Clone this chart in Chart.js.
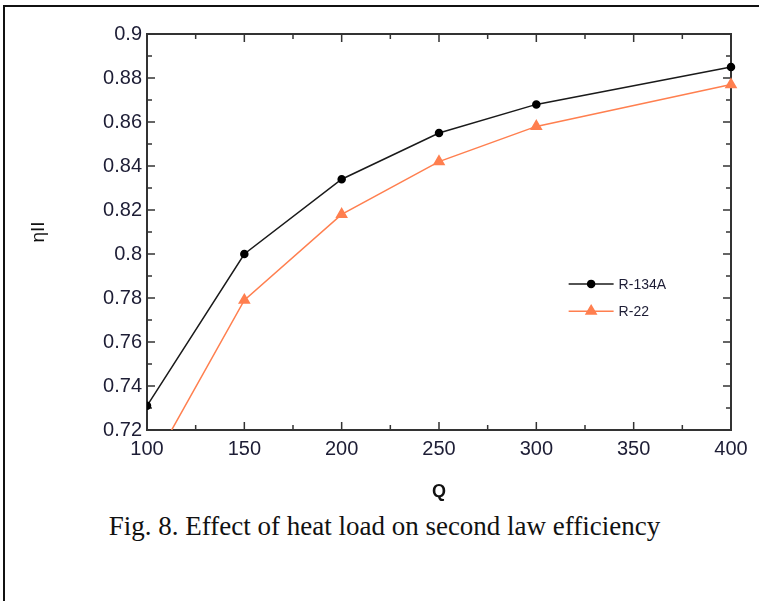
<!DOCTYPE html>
<html>
<head>
<meta charset="utf-8">
<script src="https://cdn.jsdelivr.net/npm/chart.js@4.4.1/dist/chart.umd.min.js"></script>
<style>
  html, body { margin: 0; padding: 0; background: #fff; }
  #page { position: relative; width: 759px; height: 601px; overflow: hidden; }
  #box { position: absolute; left: 3px; top: 5px; right: -5px; bottom: -5px;
         border-top: 2px solid #111; border-left: 2px solid #111; }
  #chart { position: absolute; left: 0; top: 0; }
  #caption { position: absolute; left: 0; width: 769px; top: 511px; text-align: center;
             font-family: "Liberation Serif", serif; font-size: 27px; color: #111; }
</style>
</head>
<body>
<div id="page">
  <div id="box"></div>
  <canvas id="chart" width="759" height="510"></canvas>
  <div id="caption">Fig. 8. Effect of heat load on second law efficiency</div>
</div>
<script>
// heat load Q
const heatLoad = [100, 150, 200, 250, 300, 400];
// second law efficiency
const effR134a = [0.731, 0.800, 0.834, 0.855, 0.868, 0.885];
const effR22 = [0.700, 0.779, 0.818, 0.842, 0.858, 0.877];

const xTicks = [100, 150, 200, 250, 300, 350, 400];
const yTicks = [0.72, 0.74, 0.76, 0.78, 0.8, 0.82, 0.84, 0.86, 0.88, 0.9];

const labelColor = "#1d1d35";

// box round the plot with inward ticks on all four sides, plus the key
const frameTicks = {
  id: "frameTicks",
  beforeDatasetsDraw(chart) {
    const { ctx, chartArea: a, scales: { x, y } } = chart;
    ctx.save();
    ctx.strokeStyle = "#333";
    ctx.lineWidth = 2;
    ctx.strokeRect(a.left, a.top, a.right - a.left, a.bottom - a.top);
    ctx.lineWidth = 1.5;
    ctx.beginPath();
    for (let q = 100; q <= 400; q += 25) {
      const px = x.getPixelForValue(q);
      const len = q % 50 === 0 ? 8 : 5;
      ctx.moveTo(px, a.bottom); ctx.lineTo(px, a.bottom - len);
      ctx.moveTo(px, a.top); ctx.lineTo(px, a.top + len);
    }
    for (let k = 0; k <= 18; k++) {
      const py = y.getPixelForValue(0.72 + k * 0.01);
      const len = k % 2 === 0 ? 8 : 5;
      ctx.moveTo(a.left, py); ctx.lineTo(a.left + len, py);
      ctx.moveTo(a.right, py); ctx.lineTo(a.right - len, py);
    }
    ctx.stroke();
    ctx.restore();
  },
  afterDraw(chart) {
    const { ctx, chartArea: a } = chart;
    const w = a.right - a.left, h = a.bottom - a.top;
    const x0 = a.left + w * 0.722, x1 = a.left + w * 0.799;
    const rows = [a.top + h * 0.631, a.top + h * 0.700];
    ctx.save();
    chart.data.datasets.forEach((ds, i) => {
      const yy = rows[i];
      ctx.strokeStyle = ds.borderColor;
      ctx.lineWidth = ds.borderWidth;
      ctx.beginPath();
      ctx.moveTo(x0, yy); ctx.lineTo(x1, yy);
      ctx.stroke();
      ctx.fillStyle = ds.pointBackgroundColor;
      ctx.strokeStyle = ds.pointBackgroundColor;
      Chart.helpers.drawPoint(ctx, { pointStyle: ds.pointStyle, radius: ds.pointRadius, rotation: 0, borderWidth: 1 }, (x0 + x1) / 2, yy);
      ctx.fillStyle = labelColor;
      ctx.font = "14px 'Liberation Sans', Arial, sans-serif";
      ctx.textBaseline = "middle";
      ctx.fillText(ds.label, x1 + 5, yy + 1);
    });
    ctx.restore();
  }
};

new Chart(document.getElementById("chart"), {
  type: "line",
  data: {
    labels: heatLoad,
    datasets: [
      {
        label: "R-134A",
        data: heatLoad.map((q, i) => ({ x: q, y: effR134a[i] })),
        borderColor: "#1a1a1a",
        borderWidth: 1.5,
        pointStyle: "circle",
        pointRadius: 3.5,
        pointBackgroundColor: "#000",
        pointBorderColor: "#000",
        clip: { left: 0, top: 6, right: 6, bottom: 0 }
      },
      {
        label: "R-22",
        data: heatLoad.map((q, i) => ({ x: q, y: effR22[i] })),
        borderColor: "#ff7f4f",
        borderWidth: 1.5,
        pointStyle: "triangle",
        pointRadius: 5.8,
        pointBackgroundColor: "#ff7f4f",
        pointBorderColor: "#ff7f4f",
        clip: { left: 0, top: 6, right: 8, bottom: 0 }
      }
    ]
  },
  options: {
    responsive: false,
    devicePixelRatio: 1,
    animation: false,
    layout: { padding: { left: 0, top: 34, right: 28, bottom: 0 } },
    plugins: { legend: { display: false }, tooltip: { enabled: false } },
    scales: {
      x: {
        type: "linear",
        min: 100,
        max: 400,
        afterBuildTicks: (s) => { s.ticks = xTicks.map(v => ({ value: v })); },
        afterFit: (s) => { s.height = 80; },
        grid: { display: false, drawTicks: false },
        border: { display: false },
        ticks: {
          color: labelColor,
          padding: 7,
          maxRotation: 0,
          font: { family: "'Liberation Sans', Arial, sans-serif", size: 20 },
          callback: (v) => String(v)
        },
        title: {
          display: true,
          text: "Q",
          color: "#111",
          padding: { top: 0, bottom: 7 },
          font: { family: "'Liberation Sans', Arial, sans-serif", size: 18, weight: "bold" }
        }
      },
      y: {
        min: 0.72,
        max: 0.9,
        afterBuildTicks: (s) => { s.ticks = yTicks.map(v => ({ value: v })); },
        afterFit: (s) => { s.width = 147; },
        grid: { display: false, drawTicks: false },
        border: { display: false },
        ticks: {
          color: labelColor,
          padding: 5,
          font: { family: "'Liberation Sans', Arial, sans-serif", size: 20 },
          callback: (v) => String(parseFloat(v.toFixed(2)))
        },
        title: {
          display: true,
          text: "ηII",
          color: "#111",
          padding: { top: 27, bottom: 0 },
          font: { family: "'Liberation Sans', Arial, sans-serif", size: 19 }
        }
      }
    }
  },
  plugins: [frameTicks]
});
</script>
</body>
</html>
